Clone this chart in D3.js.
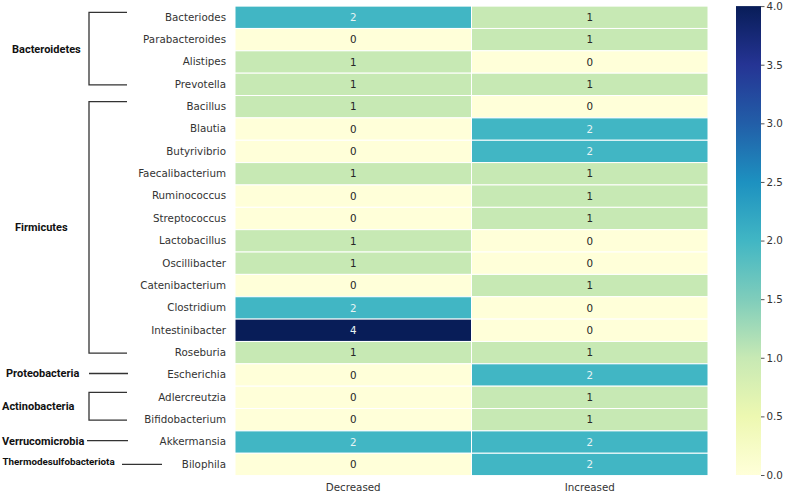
<!DOCTYPE html>
<html><head><meta charset="utf-8">
<script src="https://cdn.jsdelivr.net/npm/d3@7"></script>
<style>body{margin:0;background:#fff}svg{display:block}</style>
</head><body>
<svg id="c" width="789" height="497"></svg>
<script>
const genera = ["Bacteriodes","Parabacteroides","Alistipes","Prevotella","Bacillus","Blautia","Butyrivibrio","Faecalibacterium","Ruminococcus","Streptococcus","Lactobacillus","Oscillibacter","Catenibacterium","Clostridium","Intestinibacter","Roseburia","Escherichia","Adlercreutzia","Bifidobacterium","Akkermansia","Bilophila"];
const conditions = ["Decreased","Increased"];
const decreased = [2,0,1,1,1,0,0,1,0,0,1,1,0,2,4,1,0,0,0,2,0];
const increased = [1,1,0,1,0,2,2,1,1,1,0,0,1,0,0,1,2,1,1,2,2];
const colorTicks = [0,0.5,1,1.5,2,2.5,3,3.5,4];
const phyla = ["Bacteroidetes","Firmicutes","Proteobacteria","Actinobacteria","Verrucomicrobia","Thermodesulfobacteriota"];
const phylumFirst = ["Bacteriodes","Bacillus","Escherichia","Adlercreutzia","Akkermansia","Bilophila"];
const phylumLast = ["Prevotella","Roseburia","Escherichia","Bifidobacterium","Akkermansia","Bilophila"];

const ylgnbu = ["#ffffd9","#edf8b1","#c7e9b4","#7fcdbb","#41b6c4","#1d91c0","#225ea8","#253494","#081d58"];
const color = d3.scaleLinear().domain(d3.range(9).map(i => i*0.5)).range(ylgnbu).interpolate(d3.interpolateRgb);

const svg = d3.select("#c");
const L = 235, R = 708, T = 6.1, B = 475.6;
const x = d3.scaleBand().domain(conditions).range([L, R]);
const y = d3.scaleBand().domain(genera).range([T, B]);

const cells = [];
genera.forEach((g,i) => {
  cells.push({g, c:"Decreased", v:decreased[i]});
  cells.push({g, c:"Increased", v:increased[i]});
});
const tickFont = "DejaVu Sans, sans-serif";
svg.append("g").selectAll("rect").data(cells).join("rect")
  .attr("x", d => x(d.c)).attr("y", d => y(d.g))
  .attr("width", x.bandwidth()).attr("height", y.bandwidth())
  .attr("fill", d => color(d.v)).attr("stroke", "#fff").attr("stroke-width", 1);
svg.append("g").selectAll("text").data(cells).join("text")
  .attr("x", d => x(d.c) + x.bandwidth()/2).attr("y", d => y(d.g) + y.bandwidth()/2)
  .attr("dy", "0.36em").attr("text-anchor", "middle")
  .attr("font-family", tickFont).attr("font-size", "10.3px")
  .attr("fill", d => d.v >= 2 ? "#e8f4f4" : "#262626")
  .text(d => d.v);

const yAx = svg.append("g").attr("transform", `translate(${L},0)`)
  .call(d3.axisLeft(y).tickSize(0).tickPadding(9));
yAx.select(".domain").remove();
yAx.selectAll("text").attr("font-family", tickFont).attr("font-size", "10.3px").attr("fill", "#333");

const xAx = svg.append("g").attr("transform", `translate(0,${B})`)
  .call(d3.axisBottom(x).tickSize(0).tickPadding(8));
xAx.select(".domain").remove();
xAx.selectAll("text").attr("font-family", tickFont).attr("font-size", "10.3px").attr("fill", "#333");

// colorbar
const cbX = 736, cbW = 25;
const cy = d3.scaleLinear().domain([0,4]).range([B - 0.6, T]);
const grad = svg.append("defs").append("linearGradient").attr("id","cbg")
  .attr("x1","0").attr("y1","1").attr("x2","0").attr("y2","0");
grad.selectAll("stop").data(d3.range(0, 4.001, 0.5)).join("stop")
  .attr("offset", d => d/4).attr("stop-color", d => color(d));
svg.append("rect").attr("x", cbX).attr("y", T).attr("width", cbW).attr("height", B - 0.6 - T).attr("fill", "url(#cbg)");
const cAx = svg.append("g").attr("transform", `translate(${cbX+cbW},0)`)
  .call(d3.axisRight(cy).tickValues(colorTicks).tickFormat(d3.format(".1f")).tickSize(3.5).tickPadding(2));
cAx.select(".domain").remove();
cAx.selectAll("line").attr("stroke", "#555");
cAx.selectAll("text").attr("font-family", tickFont).attr("font-size", "10.3px").attr("fill", "#333");

// phylum brackets
const labelX = [12, 15, 6, 2, 2, 2.5];
const labelSize = [11, 11, 11, 11, 11, 9.8];
const g = svg.append("g").attr("stroke", "#333").attr("stroke-width", 1.3).attr("fill", "none");
phyla.forEach((p, i) => {
  const y0 = y(phylumFirst[i]) + y.bandwidth()/2;
  const y1 = y(phylumLast[i]) + y.bandwidth()/2;
  let midY;
  if (phylumFirst[i] !== phylumLast[i]) {
    const top = y0 - 5, bot = y1 + 0.5;
    g.append("path").attr("d", `M127,${top}H89V${bot}H127`);
    midY = (top + bot)/2;
  } else if (p === "Thermodesulfobacteriota") {
    g.append("line").attr("x1",122).attr("x2",162).attr("y1",y0).attr("y2",y0);
    midY = y0 - 3;
  } else {
    const lx = p === "Verrucomicrobia" ? 87 : 89;
    g.append("line").attr("x1",lx).attr("x2",128).attr("y1",y0-1.5).attr("y2",y0-1.5);
    midY = y0 - 1.5;
  }
  svg.append("text").attr("x", labelX[i]).attr("y", midY).attr("dy","0.36em")
    .attr("font-family","Roboto, sans-serif").attr("font-weight","bold")
    .attr("font-size", labelSize[i] + "px").attr("fill","#111").text(p);
});
</script>
</body></html>
